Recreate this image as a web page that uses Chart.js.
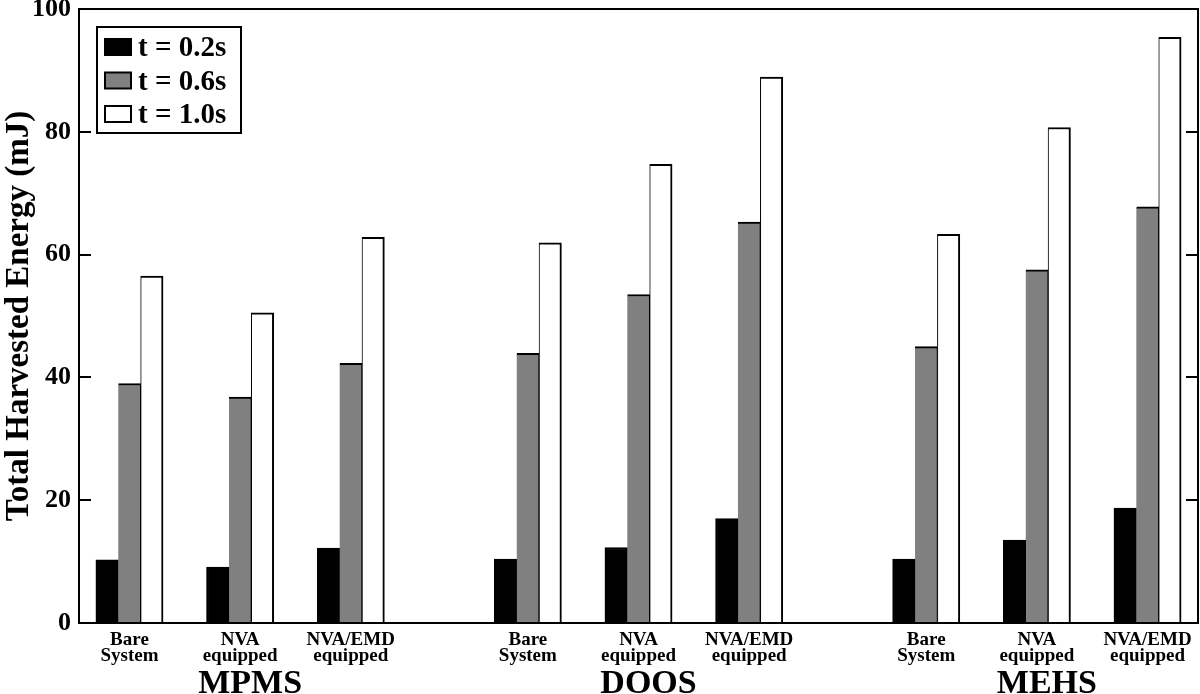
<!DOCTYPE html>
<html><head><meta charset="utf-8">
<script src="https://cdn.jsdelivr.net/npm/chart.js@4.4.0/dist/chart.umd.min.js"></script>
<style>html,body{margin:0;padding:0;background:#fff}canvas{display:block}</style>
</head><body>
<canvas id="c" width="1200" height="694"></canvas>
<script>
const groupNames = ['MPMS', 'DOOS', 'MEHS'];
const configLabels = [['Bare', 'System'], ['NVA', 'equipped'], ['NVA/EMD', 'equipped']];
const seriesLabels = ['t = 0.2s', 't = 0.6s', 't = 1.0s'];
const t02 = [10.3, 9.1, 12.2, 10.4, 12.3, 17.0, 10.4, 13.5, 18.7];
const t06 = [39.0, 36.8, 42.3, 43.9, 53.5, 65.3, 45.0, 57.5, 67.8];
const t10 = [56.5, 50.5, 62.8, 61.9, 74.7, 88.9, 63.3, 80.7, 95.4];
const yTicks = [0, 20, 40, 60, 80, 100];
const yTitle = 'Total Harvested Energy (mJ)';

const GROUP_STRIDE = 3.6;
const positions = [];
const tickLabels = [];
groupNames.forEach((g, gi) => configLabels.forEach((c, ci) => {
  positions.push(gi * GROUP_STRIDE + ci);
  tickLabels.push(c);
}));
const toPts = arr => arr.map((v, i) => ({ x: positions[i], y: v }));
const SERIF = "'Liberation Serif','Times New Roman',serif";

const decorPlugin = {
  id: 'decor',
  afterDatasetsDraw(chart) {
    const ctx = chart.ctx;
    const a = chart.chartArea;
    const ys = chart.scales.y, xs = chart.scales.x;
    ctx.save();
    ctx.strokeStyle = '#000';
    ctx.lineWidth = 2;
    ctx.strokeRect(a.left, a.top, a.right - a.left, a.bottom - a.top);
    ctx.beginPath();
    yTicks.forEach(v => {
      const py = Math.round(ys.getPixelForValue(v));
      ctx.moveTo(a.left, py); ctx.lineTo(a.left + 12, py);
      ctx.moveTo(a.right, py); ctx.lineTo(a.right - 12, py);
    });
    ctx.stroke();
    ctx.fillStyle = '#000';
    ctx.font = 'bold 34px ' + SERIF;
    ctx.textAlign = 'center';
    ctx.textBaseline = 'alphabetic';
    groupNames.forEach((g, gi) => {
      const cx = xs.getPixelForValue(gi * GROUP_STRIDE + 1) + 10;
      ctx.fillText(g, cx, 693);
    });
    const bx = 97, by = 27, bw = 144, bh = 106;
    ctx.lineWidth = 2;
    ctx.fillStyle = '#fff';
    ctx.fillRect(bx, by, bw, bh);
    ctx.strokeRect(bx, by, bw, bh);
    ctx.font = 'bold 29px ' + SERIF;
    ctx.textAlign = 'left';
    ctx.textBaseline = 'middle';
    chart.data.datasets.forEach((ds, i) => {
      const ry = by + 12 + i * 33.5;
      ctx.fillStyle = ds.backgroundColor;
      ctx.fillRect(105, ry, 26, 16);
      ctx.strokeStyle = '#000';
      ctx.lineWidth = 2;
      ctx.strokeRect(105, ry, 26, 16);
      ctx.fillStyle = '#000';
      ctx.fillText(ds.label, 138, ry + 10);
    });
    ctx.restore();
  }
};

new Chart(document.getElementById('c'), {
  type: 'bar',
  data: {
    datasets: [
      { label: seriesLabels[0], data: toPts(t02), backgroundColor: '#000000', borderColor: '#000', borderWidth: 2 },
      { label: seriesLabels[1], data: toPts(t06), backgroundColor: '#808080', borderColor: '#000', borderWidth: { top: 2, left: 0, right: 1, bottom: 0 } },
      { label: seriesLabels[2], data: toPts(t10), backgroundColor: '#ffffff', borderColor: '#000', borderWidth: { top: 2, left: 1, right: 2, bottom: 0 } }
    ]
  },
  options: {
    responsive: false,
    animation: false,
    devicePixelRatio: 1,
    barThickness: 22.4,
    layout: { padding: { top: 9, right: 2, bottom: 0, left: 0 } },
    plugins: { legend: { display: false }, tooltip: { enabled: false } },
    scales: {
      x: {
        type: 'linear',
        offset: false,
        min: -0.456,
        max: 2 * GROUP_STRIDE + 2 + 0.456,
        grid: { display: false },
        border: { display: false },
        afterBuildTicks: s => { s.ticks = positions.map(v => ({ value: v })); },
        afterFit: s => { s.height = 71; s.paddingLeft = 0; s.paddingRight = 0; },
        ticks: {
          autoSkip: false,
          maxRotation: 0,
          padding: 1,
          color: '#000',
          font: { family: SERIF, size: 19, weight: 'bold', lineHeight: 0.86 },
          callback: (v, i) => tickLabels[i]
        }
      },
      y: {
        min: 0,
        max: 100,
        grid: { display: false },
        border: { display: false },
        afterFit: s => { s.width = 79; s.paddingTop = 0; s.paddingBottom = 0; },
        ticks: {
          stepSize: 20,
          padding: 0,
          color: '#000',
          font: { family: SERIF, size: 26, weight: 'bold' }
        },
        title: {
          display: true,
          text: yTitle,
          color: '#000',
          padding: 0,
          font: { family: SERIF, size: 33, weight: 'bold' }
        }
      }
    }
  },
  plugins: [decorPlugin]
});
</script>
</body></html>
